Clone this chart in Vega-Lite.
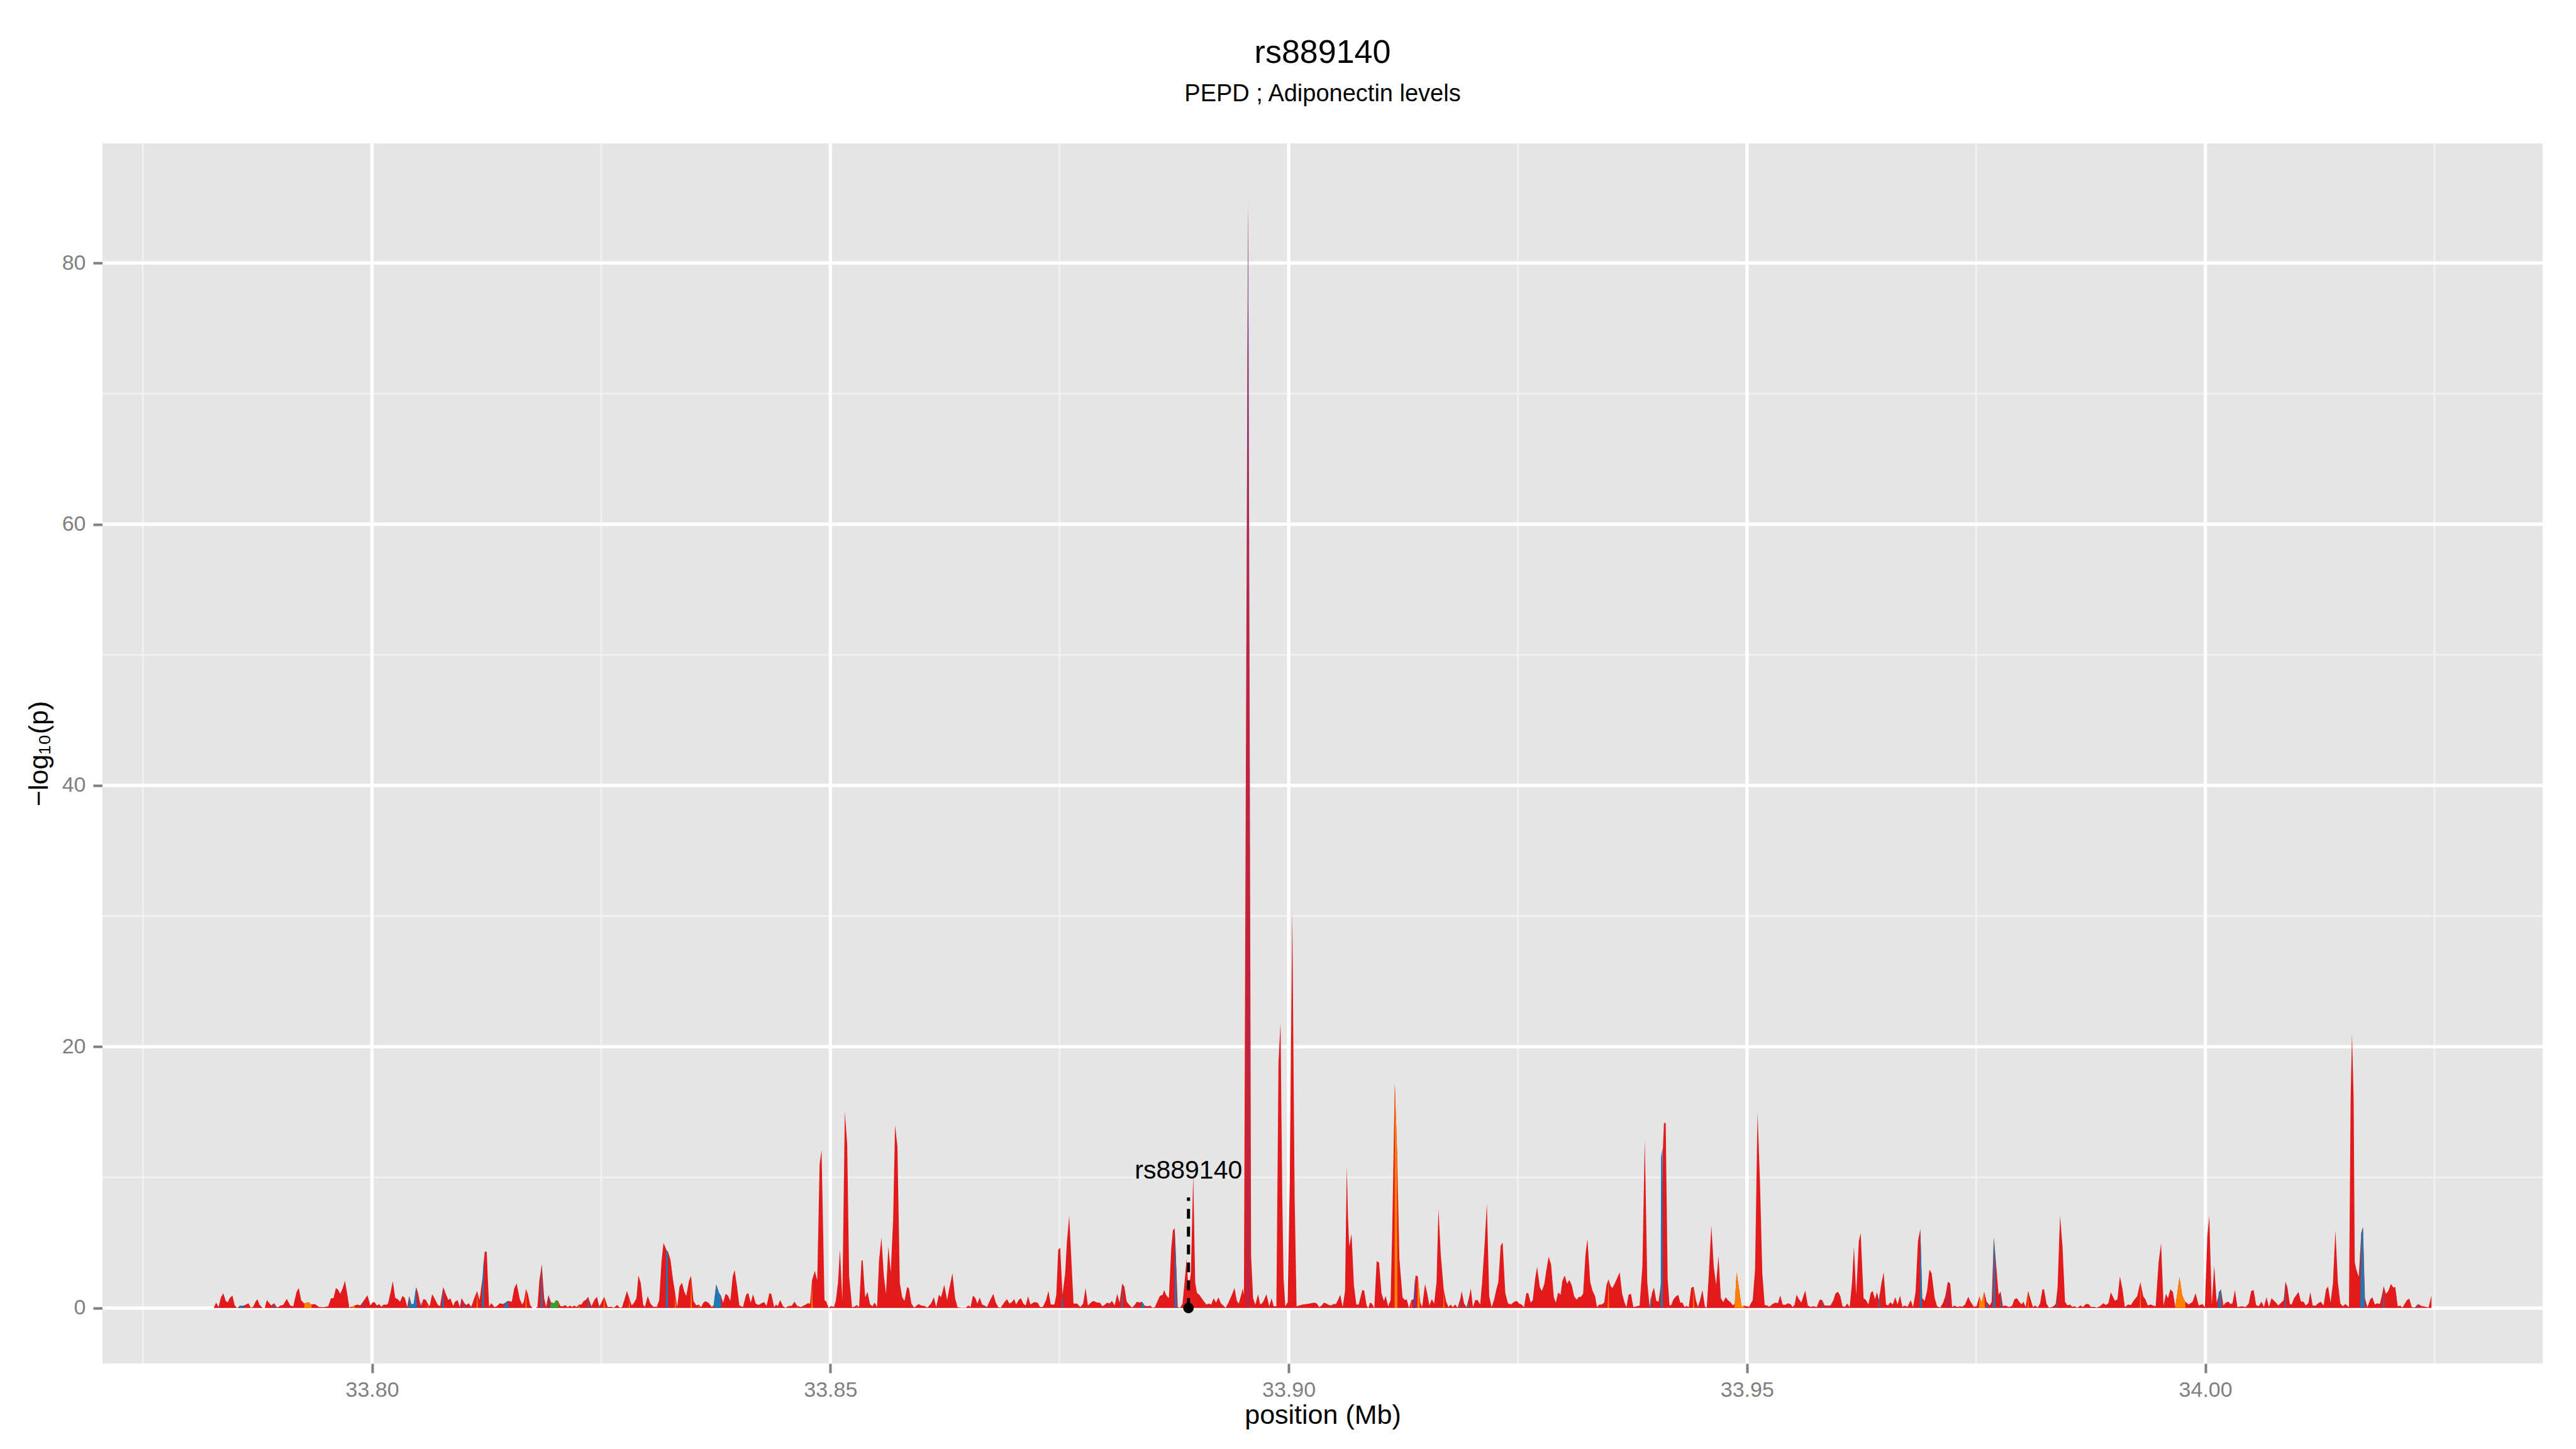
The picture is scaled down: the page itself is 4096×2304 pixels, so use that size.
{
"$schema": "https://vega.github.io/schema/vega-lite/v6.json",
"width": 3880, "height": 1940,
"autosize": {"type": "none"},
"padding": {"left": 163, "top": 228, "right": 53, "bottom": 136},
"background": "white",
"title": {"text": "rs889140", "subtitle": "PEPD ; Adiponectin levels", "anchor": "middle", "font": "Liberation Sans", "subtitleFont": "Liberation Sans", "fontSize": 52, "subtitleFontSize": 38, "fontWeight": "normal", "color": "black", "subtitleColor": "black", "offset": 55, "subtitlePadding": 20},
"config": {
 "view": {"fill": "#E5E5E5", "stroke": null},
 "axis": {"grid": false, "domain": false, "tickColor": "#7F7F7F", "tickSize": 15, "tickWidth": 4, "labelColor": "#7F7F7F", "labelFont": "Liberation Sans", "labelFontSize": 34, "titleFont": "Liberation Sans", "titleFontSize": 43, "titleColor": "black", "titleFontWeight": "normal"},
 "axisX": {"labelPadding": 10, "titlePadding": 2},
 "axisY": {"labelPadding": 12, "titlePadding": 14}
},
"datasets": {
 "minorY": [{"logp": 10}, {"logp": 30}, {"logp": 50}, {"logp": 70}],
 "minorX": [{"pos": 33.775}, {"pos": 33.825}, {"pos": 33.875}, {"pos": 33.925}, {"pos": 33.975}, {"pos": 34.025}],
 "majorY": [{"logp": 0}, {"logp": 20}, {"logp": 40}, {"logp": 60}, {"logp": 80}],
 "majorX": [{"pos": 33.80}, {"pos": 33.85}, {"pos": 33.90}, {"pos": 33.95}, {"pos": 34.00}],
 "red": [
{"pos":33.78273,"logp":0},{"pos":33.78300,"logp":0.41},{"pos":33.78326,"logp":0.07},{"pos":33.78352,"logp":0.82},{"pos":33.78378,"logp":1.12},{"pos":33.78404,"logp":0.55},{"pos":33.78425,"logp":0.44},{"pos":33.78451,"logp":0.78},{"pos":33.78477,"logp":0.96},{"pos":33.78503,"logp":0.20},{"pos":33.78529,"logp":0},{"pos":33.78561,"logp":0.18},{"pos":33.78600,"logp":0.18},{"pos":33.78626,"logp":0.27},{"pos":33.78652,"logp":0.37},{"pos":33.78678,"logp":0.03},{"pos":33.78704,"logp":0.10},{"pos":33.78731,"logp":0.51},{"pos":33.78749,"logp":0.67},{"pos":33.78775,"logp":0.23},{"pos":33.78804,"logp":0.03},{"pos":33.78830,"logp":0},{"pos":33.78853,"logp":0.61},{"pos":33.78900,"logp":0.20},{"pos":33.78932,"logp":0.37},{"pos":33.78966,"logp":0.04},{"pos":33.79000,"logp":0.18},{"pos":33.79031,"logp":0.23},{"pos":33.79070,"logp":0.70},{"pos":33.79109,"logp":0.18},{"pos":33.79141,"logp":0.14},{"pos":33.79177,"logp":1.23},{"pos":33.79201,"logp":1.53},{"pos":33.79227,"logp":0.59},{"pos":33.79261,"logp":0.34},{"pos":33.79305,"logp":0.45},{"pos":33.79339,"logp":0.27},{"pos":33.79376,"logp":0.30},{"pos":33.79423,"logp":0.07},{"pos":33.79475,"logp":0.07},{"pos":33.79522,"logp":0.14},{"pos":33.79553,"logp":0.75},{"pos":33.79580,"logp":0.75},{"pos":33.79606,"logp":1.53},{"pos":33.79632,"logp":1.37},{"pos":33.79653,"logp":1.09},{"pos":33.79679,"logp":1.50},{"pos":33.79705,"logp":2.08},{"pos":33.79731,"logp":1.02},{"pos":33.79752,"logp":0.04},{"pos":33.79789,"logp":0.14},{"pos":33.79841,"logp":0.27},{"pos":33.79872,"logp":0.20},{"pos":33.79914,"logp":0.61},{"pos":33.79950,"logp":0.98},{"pos":33.79982,"logp":0.20},{"pos":33.80010,"logp":0.45},{"pos":33.80029,"logp":0.44},{"pos":33.80055,"logp":0.18},{"pos":33.80076,"logp":0.30},{"pos":33.80102,"logp":0.10},{"pos":33.80128,"logp":0.27},{"pos":33.80154,"logp":0.25},{"pos":33.80175,"logp":0.34},{"pos":33.80201,"logp":1.16},{"pos":33.80227,"logp":2.05},{"pos":33.80253,"logp":0.78},{"pos":33.80280,"logp":0.68},{"pos":33.80306,"logp":0.48},{"pos":33.80332,"logp":0.92},{"pos":33.80358,"logp":0.78},{"pos":33.80384,"logp":0.07},{"pos":33.80405,"logp":0.92},{"pos":33.80431,"logp":0.27},{"pos":33.80455,"logp":0.34},{"pos":33.80481,"logp":1.60},{"pos":33.80502,"logp":1.16},{"pos":33.80533,"logp":0.07},{"pos":33.80559,"logp":0.68},{"pos":33.80585,"logp":0.64},{"pos":33.80611,"logp":0.31},{"pos":33.80629,"logp":0.14},{"pos":33.80656,"logp":1.05},{"pos":33.80676,"logp":0.82},{"pos":33.80716,"logp":0.27},{"pos":33.80742,"logp":0.14},{"pos":33.80776,"logp":1.60},{"pos":33.80807,"logp":1.05},{"pos":33.80833,"logp":0.61},{"pos":33.80854,"logp":0.75},{"pos":33.80886,"logp":0.16},{"pos":33.80906,"logp":0.48},{"pos":33.80933,"logp":0.61},{"pos":33.80959,"logp":0.07},{"pos":33.80977,"logp":0.75},{"pos":33.81011,"logp":0.34},{"pos":33.81029,"logp":0.23},{"pos":33.81055,"logp":0.37},{"pos":33.81082,"logp":0.07},{"pos":33.81115,"logp":0.75},{"pos":33.81147,"logp":1.30},{"pos":33.81173,"logp":0.61},{"pos":33.81207,"logp":2.38},{"pos":33.81230,"logp":4.33},{"pos":33.81251,"logp":4.30},{"pos":33.81277,"logp":0.14},{"pos":33.81303,"logp":0.37},{"pos":33.81335,"logp":0.07},{"pos":33.81361,"logp":0.14},{"pos":33.81395,"logp":0.37},{"pos":33.81429,"logp":0.31},{"pos":33.81455,"logp":0.41},{"pos":33.81481,"logp":0.55},{"pos":33.81525,"logp":0.48},{"pos":33.81551,"logp":1.50},{"pos":33.81578,"logp":1.88},{"pos":33.81612,"logp":0.68},{"pos":33.81638,"logp":0.27},{"pos":33.81656,"logp":0.48},{"pos":33.81680,"logp":1.46},{"pos":33.81700,"logp":1.09},{"pos":33.81727,"logp":0.20},{"pos":33.81753,"logp":0},{"pos":33.81787,"logp":0},{"pos":33.81805,"logp":0.10},{"pos":33.81826,"logp":2.12},{"pos":33.81852,"logp":3.35},{"pos":33.81878,"logp":0.75},{"pos":33.81899,"logp":0.10},{"pos":33.81925,"logp":1.00},{"pos":33.81951,"logp":0.45},{"pos":33.81983,"logp":0.37},{"pos":33.82009,"logp":0.59},{"pos":33.82030,"logp":0.55},{"pos":33.82056,"logp":0.14},{"pos":33.82087,"logp":0.14},{"pos":33.82108,"logp":0.23},{"pos":33.82134,"logp":0.07},{"pos":33.82160,"logp":0.18},{"pos":33.82186,"logp":0.07},
{"pos":33.82206,"logp":0.20},{"pos":33.82232,"logp":0.07},{"pos":33.82258,"logp":0.27},{"pos":33.82284,"logp":0.27},{"pos":33.82310,"logp":0.55},{"pos":33.82331,"logp":0.61},{"pos":33.82357,"logp":0.86},{"pos":33.82394,"logp":0.14},{"pos":33.82428,"logp":0.64},{"pos":33.82454,"logp":0.86},{"pos":33.82480,"logp":0.07},{"pos":33.82506,"logp":0.48},{"pos":33.82533,"logp":0.86},{"pos":33.82572,"logp":0.07},{"pos":33.82611,"logp":0.10},{"pos":33.82637,"logp":0.03},{"pos":33.82676,"logp":0.23},{"pos":33.82702,"logp":0.03},{"pos":33.82728,"logp":0.07},{"pos":33.82755,"logp":0.68},{"pos":33.82781,"logp":1.30},{"pos":33.82807,"logp":0.75},{"pos":33.82833,"logp":0.20},{"pos":33.82859,"logp":0.41},{"pos":33.82885,"logp":0.75},{"pos":33.82906,"logp":2.50},{"pos":33.82932,"logp":1.91},{"pos":33.82958,"logp":0.27},{"pos":33.82977,"logp":0.07},{"pos":33.83008,"logp":0.92},{"pos":33.83037,"logp":0.34},{"pos":33.83068,"logp":0.10},{"pos":33.83107,"logp":0.10},{"pos":33.83133,"logp":0.61},{"pos":33.83159,"logp":3.62},{"pos":33.83180,"logp":4.99},{"pos":33.83212,"logp":4.44},{"pos":33.83230,"logp":4.30},{"pos":33.83256,"logp":3.69},{"pos":33.83282,"logp":2.25},{"pos":33.83308,"logp":1.09},{"pos":33.83329,"logp":0.07},{"pos":33.83355,"logp":1.64},{"pos":33.83381,"logp":1.94},{"pos":33.83408,"logp":1.23},{"pos":33.83428,"logp":0.92},{"pos":33.83460,"logp":2.12},{"pos":33.83481,"logp":2.46},{"pos":33.83507,"logp":0.55},{"pos":33.83538,"logp":0.20},{"pos":33.83564,"logp":0.27},{"pos":33.83590,"logp":0.07},{"pos":33.83616,"logp":0.41},{"pos":33.83637,"logp":0.52},{"pos":33.83669,"logp":0.41},{"pos":33.83708,"logp":0.07},{"pos":33.83729,"logp":0.23},{"pos":33.83755,"logp":1.80},{"pos":33.83786,"logp":1.16},{"pos":33.83805,"logp":0.96},{"pos":33.83831,"logp":0.41},{"pos":33.83857,"logp":1.09},{"pos":33.83883,"logp":0.96},{"pos":33.83909,"logp":0.55},{"pos":33.83935,"logp":2.42},{"pos":33.83956,"logp":2.91},{"pos":33.83982,"logp":1.64},{"pos":33.84008,"logp":0.20},{"pos":33.84047,"logp":0.07},{"pos":33.84081,"logp":1.02},{"pos":33.84105,"logp":1.16},{"pos":33.84131,"logp":0.41},{"pos":33.84157,"logp":1.05},{"pos":33.84186,"logp":0.34},{"pos":33.84217,"logp":0.23},{"pos":33.84249,"logp":0.37},{"pos":33.84277,"logp":0.45},{"pos":33.84304,"logp":0.16},{"pos":33.84335,"logp":1.13},{"pos":33.84356,"logp":1.07},{"pos":33.84387,"logp":0.07},{"pos":33.84408,"logp":0.27},{"pos":33.84426,"logp":0.14},{"pos":33.84452,"logp":0.61},{"pos":33.84484,"logp":0.14},{"pos":33.84510,"logp":0.03},{"pos":33.84544,"logp":0.16},{"pos":33.84578,"logp":0.16},{"pos":33.84609,"logp":0.48},{"pos":33.84635,"logp":0.20},{"pos":33.84674,"logp":0.07},{"pos":33.84714,"logp":0.20},{"pos":33.84753,"logp":0.37},{"pos":33.84779,"logp":0.34},{"pos":33.84800,"logp":2.12},{"pos":33.84831,"logp":2.84},{"pos":33.84857,"logp":2.12},{"pos":33.84883,"logp":11.0},{"pos":33.84904,"logp":12.09},{"pos":33.84936,"logp":0.61},{"pos":33.84954,"logp":0.51},{"pos":33.84980,"logp":0.03},{"pos":33.85014,"logp":0.16},{"pos":33.85040,"logp":0.07},{"pos":33.85061,"logp":0.61},{"pos":33.85084,"logp":1.98},{"pos":33.85105,"logp":4.47},{"pos":33.85131,"logp":0.61},{"pos":33.85158,"logp":15.03},{"pos":33.85184,"logp":12.5},{"pos":33.85205,"logp":2.46},{"pos":33.85236,"logp":0.07},{"pos":33.85262,"logp":0.10},{"pos":33.85288,"logp":0.23},{"pos":33.85314,"logp":0.07},{"pos":33.85340,"logp":3.65},{"pos":33.85353,"logp":3.65},{"pos":33.85380,"logp":0.82},{"pos":33.85406,"logp":1.23},{"pos":33.85432,"logp":0.31},{"pos":33.85458,"logp":0.14},{"pos":33.85484,"logp":0.41},{"pos":33.85510,"logp":0.07},{"pos":33.85531,"logp":3.62},{"pos":33.85557,"logp":5.40},{"pos":33.85583,"logp":2.53},{"pos":33.85607,"logp":1.09},{"pos":33.85633,"logp":4.71},{"pos":33.85659,"logp":2.73},{"pos":33.85685,"logp":6.76},{"pos":33.85706,"logp":14.0},{"pos":33.85732,"logp":12.36},{"pos":33.85758,"logp":1.91},{"pos":33.85784,"logp":0.82},{"pos":33.85810,"logp":0.55},{"pos":33.85837,"logp":1.60},{"pos":33.85858,"logp":1.50},{"pos":33.85884,"logp":0.34},{"pos":33.85915,"logp":0.03},{"pos":33.85962,"logp":0.31},{"pos":33.85993,"logp":0.18},{"pos":33.86027,"logp":0.16},{"pos":33.86059,"logp":0.04},{"pos":33.86098,"logp":0.34},{"pos":33.86129,"logp":0.82},{"pos":33.86155,"logp":0.07},{"pos":33.86184,"logp":1.02},{"pos":33.86208,"logp":0.82},
{"pos":33.86243,"logp":1.78},{"pos":33.86274,"logp":0.61},{"pos":33.86300,"logp":1.57},{"pos":33.86332,"logp":2.66},{"pos":33.86361,"logp":0.75},{"pos":33.86387,"logp":0.07},{"pos":33.86426,"logp":0.03},{"pos":33.86478,"logp":0.03},{"pos":33.86504,"logp":0.20},{"pos":33.86530,"logp":0.07},{"pos":33.86556,"logp":0.96},{"pos":33.86583,"logp":0.75},{"pos":33.86603,"logp":0.34},{"pos":33.86630,"logp":0.79},{"pos":33.86656,"logp":0.27},{"pos":33.86682,"logp":0.20},{"pos":33.86708,"logp":0.07},{"pos":33.86739,"logp":0.55},{"pos":33.86778,"logp":1.09},{"pos":33.86805,"logp":0.41},{"pos":33.86831,"logp":0.07},{"pos":33.86857,"logp":0.03},{"pos":33.86896,"logp":0.41},{"pos":33.86927,"logp":0.68},{"pos":33.86953,"logp":0.34},{"pos":33.86974,"logp":0.41},{"pos":33.87006,"logp":0.68},{"pos":33.87027,"logp":0.27},{"pos":33.87053,"logp":0.61},{"pos":33.87079,"logp":0.75},{"pos":33.87105,"logp":0.34},{"pos":33.87131,"logp":0.18},{"pos":33.87157,"logp":0.89},{"pos":33.87183,"logp":0.27},{"pos":33.87223,"logp":0.45},{"pos":33.87262,"logp":0.41},{"pos":33.87288,"logp":0.07},{"pos":33.87319,"logp":0.10},{"pos":33.87353,"logp":0.61},{"pos":33.87379,"logp":1.30},{"pos":33.87405,"logp":0.27},{"pos":33.87445,"logp":0.27},{"pos":33.87465,"logp":1.02},{"pos":33.87486,"logp":4.44},{"pos":33.87507,"logp":4.62},{"pos":33.87533,"logp":1.02},{"pos":33.87562,"logp":2.66},{"pos":33.87580,"logp":4.99},{"pos":33.87606,"logp":7.04},{"pos":33.87627,"logp":4.03},{"pos":33.87653,"logp":0.34},{"pos":33.87693,"logp":0.34},{"pos":33.87727,"logp":0.07},{"pos":33.87758,"logp":0.34},{"pos":33.87784,"logp":1.53},{"pos":33.87810,"logp":0.20},{"pos":33.87842,"logp":0.41},{"pos":33.87868,"logp":0.55},{"pos":33.87889,"logp":0.48},{"pos":33.87915,"logp":0.41},{"pos":33.87941,"logp":0.41},{"pos":33.87967,"logp":0.14},{"pos":33.87998,"logp":0.27},{"pos":33.88019,"logp":0.41},{"pos":33.88045,"logp":0.34},{"pos":33.88071,"logp":0.55},{"pos":33.88103,"logp":0.20},{"pos":33.88129,"logp":1.09},{"pos":33.88155,"logp":0.41},{"pos":33.88184,"logp":1.87},{"pos":33.88207,"logp":1.64},{"pos":33.88233,"logp":0.48},{"pos":33.88267,"logp":0.20},{"pos":33.88293,"logp":0.04},{"pos":33.88319,"logp":0.23},{"pos":33.88346,"logp":0.48},{"pos":33.88372,"logp":0.41},{"pos":33.88398,"logp":0.48},{"pos":33.88424,"logp":0.20},{"pos":33.88458,"logp":0.14},{"pos":33.88489,"logp":0.18},{"pos":33.88515,"logp":0.03},{"pos":33.88541,"logp":0.07},{"pos":33.88567,"logp":0.48},{"pos":33.88594,"logp":0.92},{"pos":33.88625,"logp":1.02},{"pos":33.88641,"logp":1.37},{"pos":33.88667,"logp":0.96},{"pos":33.88693,"logp":0.75},{"pos":33.88719,"logp":4.57},{"pos":33.88737,"logp":5.94},{"pos":33.88756,"logp":6.11},{"pos":33.88777,"logp":2.66},{"pos":33.88790,"logp":0.07},{"pos":33.88816,"logp":0.03},{"pos":33.88842,"logp":0.34},{"pos":33.88868,"logp":2.25},{"pos":33.88886,"logp":3.76},{"pos":33.88907,"logp":1.43},{"pos":33.88933,"logp":2.66},{"pos":33.88959,"logp":10.2},{"pos":33.88980,"logp":1.98},{"pos":33.88999,"logp":1.16},{"pos":33.89025,"logp":1.02},{"pos":33.89051,"logp":0.75},{"pos":33.89077,"logp":0.48},{"pos":33.89103,"logp":0.27},{"pos":33.89129,"logp":0.34},{"pos":33.89155,"logp":0.27},{"pos":33.89182,"logp":0.75},{"pos":33.89208,"logp":0.41},{"pos":33.89234,"logp":0.82},{"pos":33.89260,"logp":0.37},{"pos":33.89286,"logp":0.20},{"pos":33.89312,"logp":0.03},{"pos":33.89338,"logp":0.34},{"pos":33.89377,"logp":0.96},{"pos":33.89409,"logp":1.53},{"pos":33.89435,"logp":0.55},{"pos":33.89456,"logp":0.34},{"pos":33.89482,"logp":1.02},{"pos":33.89500,"logp":1.5},
{"pos":33.89512,"logp":1.0},{"pos":33.89535,"logp":45},{"pos":33.89557,"logp":84.9},{"pos":33.89572,"logp":52},{"pos":33.89590,"logp":4},{"pos":33.89612,"logp":0.74},{"pos":33.89637,"logp":0.26},{"pos":33.89666,"logp":1.05},{"pos":33.89690,"logp":0.26},{"pos":33.89719,"logp":0.44},{"pos":33.89758,"logp":1.05},{"pos":33.89788,"logp":0.14},{"pos":33.89813,"logp":0.74},{"pos":33.89837,"logp":0.14},{"pos":33.89866,"logp":0.14},{"pos":33.89889,"logp":18.8},{"pos":33.89911,"logp":21.8},{"pos":33.89930,"logp":8.6},{"pos":33.89944,"logp":2.3},{"pos":33.89963,"logp":0.14},{"pos":33.89989,"logp":0.44},{"pos":33.90012,"logp":9.8},{"pos":33.90039,"logp":30.5},{"pos":33.90065,"logp":8.6},{"pos":33.90086,"logp":0.14},{"pos":33.90148,"logp":0.26},{"pos":33.90206,"logp":0.32},
{"pos":33.90281,"logp":0.41},{"pos":33.90307,"logp":0.34},{"pos":33.90333,"logp":0.07},{"pos":33.90359,"logp":0.18},{"pos":33.90385,"logp":0.41},{"pos":33.90412,"logp":0.34},{"pos":33.90438,"logp":0.23},{"pos":33.90464,"logp":0.20},{"pos":33.90490,"logp":0.31},{"pos":33.90516,"logp":0.31},{"pos":33.90542,"logp":0.68},{"pos":33.90563,"logp":1.02},{"pos":33.90589,"logp":0.07},{"pos":33.90615,"logp":1.30},{"pos":33.90634,"logp":10.83},{"pos":33.90647,"logp":7.0},{"pos":33.90660,"logp":4.71},{"pos":33.90686,"logp":5.67},{"pos":33.90712,"logp":1.71},{"pos":33.90738,"logp":0.27},{"pos":33.90764,"logp":0.27},{"pos":33.90783,"logp":0.82},{"pos":33.90803,"logp":1.37},{"pos":33.90824,"logp":1.33},{"pos":33.90850,"logp":0.2},{"pos":33.90869,"logp":0},
{"pos":33.90887,"logp":0.41},{"pos":33.90908,"logp":0.34},{"pos":33.90934,"logp":0},{"pos":33.90960,"logp":3.59},{"pos":33.90986,"logp":3.48},{"pos":33.91012,"logp":1.16},{"pos":33.91038,"logp":0.55},{"pos":33.91059,"logp":0.92},{"pos":33.91085,"logp":0.14},{"pos":33.91112,"logp":0.61},{"pos":33.91130,"logp":6.08},{"pos":33.91158,"logp":17.2},{"pos":33.91182,"logp":12.2},{"pos":33.91208,"logp":3.76},{"pos":33.91242,"logp":0.82},{"pos":33.91268,"logp":0.61},{"pos":33.91287,"logp":0.68},{"pos":33.91313,"logp":0},{"pos":33.91339,"logp":0.61},{"pos":33.91365,"logp":0.68},{"pos":33.91386,"logp":2.50},{"pos":33.91409,"logp":2.42},{"pos":33.91436,"logp":0.41},{"pos":33.91456,"logp":0.07},{"pos":33.91488,"logp":1.84},{"pos":33.91514,"logp":1.02},{"pos":33.91535,"logp":0.20},{"pos":33.91561,"logp":0.68},{"pos":33.91587,"logp":0.34},{"pos":33.91613,"logp":1.98},{"pos":33.91634,"logp":7.58},{"pos":33.91660,"logp":4.03},{"pos":33.91691,"logp":1.43},{"pos":33.91718,"logp":0.48},{"pos":33.91744,"logp":0.07},{"pos":33.91765,"logp":0.27},{"pos":33.91791,"logp":0.07},{"pos":33.91817,"logp":0.27},{"pos":33.91843,"logp":0.03},{"pos":33.91874,"logp":0.75},{"pos":33.91887,"logp":1.30},{"pos":33.91914,"logp":0.34},{"pos":33.91940,"logp":0.07},{"pos":33.91966,"logp":0.75},{"pos":33.91987,"logp":1.50},{"pos":33.92010,"logp":0.07},{"pos":33.92036,"logp":0.61},{"pos":33.92062,"logp":0.61},{"pos":33.92089,"logp":0.27},{"pos":33.92109,"logp":1.84},{"pos":33.92136,"logp":4.71},{"pos":33.92162,"logp":7.96},{"pos":33.92188,"logp":0.89},{"pos":33.92214,"logp":0.07},{"pos":33.92240,"logp":0.61},{"pos":33.92266,"logp":1.43},{"pos":33.92287,"logp":1.98},{"pos":33.92313,"logp":4.78},{"pos":33.92334,"logp":5.01},{"pos":33.92363,"logp":1.16},{"pos":33.92392,"logp":0.37},{"pos":33.92423,"logp":0.27},{"pos":33.92462,"logp":0.48},{"pos":33.92488,"logp":0.55},{"pos":33.92514,"logp":0.34},{"pos":33.92540,"logp":0.27},{"pos":33.92567,"logp":0.07},{"pos":33.92593,"logp":1.13},{"pos":33.92614,"logp":1.13},{"pos":33.92640,"logp":0.41},{"pos":33.92663,"logp":0.61},{"pos":33.92689,"logp":2.25},{"pos":33.92710,"logp":3.14},{"pos":33.92741,"logp":1.57},{"pos":33.92762,"logp":1.30},{"pos":33.92789,"logp":1.84},{"pos":33.92809,"logp":2.80},{"pos":33.92836,"logp":3.93},{"pos":33.92862,"logp":3.35},{"pos":33.92893,"logp":0.82},{"pos":33.92914,"logp":0.41},{"pos":33.92940,"logp":1.19},{"pos":33.92966,"logp":1.02},{"pos":33.92985,"logp":2.05},{"pos":33.93011,"logp":2.50},{"pos":33.93037,"logp":1.87},{"pos":33.93063,"logp":2.14},{"pos":33.93089,"logp":1.73},{"pos":33.93115,"logp":0.89},{"pos":33.93142,"logp":0.64},{"pos":33.93168,"logp":0.86},{"pos":33.93186,"logp":0.85},{"pos":33.93212,"logp":1.09},{"pos":33.93238,"logp":4.10},{"pos":33.93259,"logp":5.29},{"pos":33.93290,"logp":1.98},{"pos":33.93316,"logp":1.30},{"pos":33.93343,"logp":0.89},{"pos":33.93363,"logp":0.07},{"pos":33.93389,"logp":0.27},{"pos":33.93415,"logp":0.27},{"pos":33.93442,"logp":0.41},{"pos":33.93468,"logp":1.78},{"pos":33.93489,"logp":2.19},{"pos":33.93515,"logp":1.64},{"pos":33.93533,"logp":1.54},{"pos":33.93559,"logp":1.91},{"pos":33.93585,"logp":2.32},{"pos":33.93611,"logp":2.73},{"pos":33.93638,"logp":1.09},{"pos":33.93664,"logp":0.41},{"pos":33.93685,"logp":0.07},{"pos":33.93708,"logp":1.02},{"pos":33.93734,"logp":1.09},{"pos":33.93760,"logp":0.07},{"pos":33.93794,"logp":0.14},{"pos":33.93828,"logp":0.18},{"pos":33.93859,"logp":3.21},{"pos":33.93885,"logp":12.94},{"pos":33.93912,"logp":1.98},{"pos":33.93938,"logp":0.07},{"pos":33.93964,"logp":1.16},{"pos":33.93985,"logp":1.57},{"pos":33.94011,"logp":0.55},{"pos":33.94035,"logp":0.48},{"pos":33.94061,"logp":1.84},{"pos":33.94081,"logp":11.95},{"pos":33.94094,"logp":14.14},{"pos":33.94113,"logp":14.18},{"pos":33.94134,"logp":2.25},{"pos":33.94155,"logp":0.20},{"pos":33.94173,"logp":0.23},{"pos":33.94199,"logp":0.68},{"pos":33.94225,"logp":0.89},{"pos":33.94251,"logp":1.0},{"pos":33.94272,"logp":0.41},{"pos":33.94296,"logp":0.41},
{"pos":33.94318,"logp":0.07},{"pos":33.94339,"logp":0.16},{"pos":33.94365,"logp":0.07},{"pos":33.94391,"logp":1.54},{"pos":33.94417,"logp":1.64},{"pos":33.94443,"logp":0.61},{"pos":33.94464,"logp":0.07},{"pos":33.94488,"logp":0.61},{"pos":33.94514,"logp":1.37},{"pos":33.94540,"logp":0.14},{"pos":33.94561,"logp":0.03},{"pos":33.94584,"logp":2.66},{"pos":33.94611,"logp":6.31},{"pos":33.94637,"logp":3.21},{"pos":33.94663,"logp":1.78},{"pos":33.94689,"logp":3.99},{"pos":33.94715,"logp":0.75},{"pos":33.94741,"logp":0.45},{"pos":33.94767,"logp":0.82},{"pos":33.94793,"logp":0.59},{"pos":33.94820,"logp":0.45},{"pos":33.94846,"logp":0.20},{"pos":33.94867,"logp":0.34},{"pos":33.94887,"logp":2.73},{"pos":33.94914,"logp":1.43},{"pos":33.94940,"logp":0.10},{"pos":33.94966,"logp":0.18},{"pos":33.94992,"logp":0.14},{"pos":33.95023,"logp":0.10},{"pos":33.95062,"logp":0.61},{"pos":33.95088,"logp":2.94},{"pos":33.95115,"logp":14.96},{"pos":33.95141,"logp":9.77},{"pos":33.95167,"logp":2.66},{"pos":33.95193,"logp":0.23},{"pos":33.95219,"logp":0.20},{"pos":33.95245,"logp":0.10},{"pos":33.95279,"logp":0.31},{"pos":33.95311,"logp":0.41},{"pos":33.95337,"logp":0.37},{"pos":33.95363,"logp":0.96},{"pos":33.95389,"logp":0.27},{"pos":33.95415,"logp":0.23},{"pos":33.95446,"logp":0.37},{"pos":33.95473,"logp":0.31},{"pos":33.95499,"logp":0.07},{"pos":33.95520,"logp":0.27},{"pos":33.95540,"logp":1.02},{"pos":33.95567,"logp":0.68},{"pos":33.95593,"logp":0.41},{"pos":33.95619,"logp":1.02},{"pos":33.95637,"logp":1.33},{"pos":33.95663,"logp":0.20},{"pos":33.95689,"logp":0.10},{"pos":33.95729,"logp":0.14},{"pos":33.95760,"logp":0.07},{"pos":33.95794,"logp":0.64},{"pos":33.95820,"logp":0.61},{"pos":33.95846,"logp":0.20},{"pos":33.95880,"logp":0.18},{"pos":33.95911,"logp":0.20},{"pos":33.95943,"logp":0.61},{"pos":33.95964,"logp":1.09},{"pos":33.95990,"logp":1.26},{"pos":33.96016,"logp":0.96},{"pos":33.96042,"logp":0.14},{"pos":33.96068,"logp":0.10},{"pos":33.96094,"logp":0.34},{"pos":33.96120,"logp":0.07},{"pos":33.96146,"logp":1.98},{"pos":33.96167,"logp":4.71},{"pos":33.96191,"logp":1.02},{"pos":33.96220,"logp":5.12},{"pos":33.96240,"logp":5.74},{"pos":33.96272,"logp":0.75},{"pos":33.96298,"logp":0.61},{"pos":33.96324,"logp":0.27},{"pos":33.96350,"logp":1.16},{"pos":33.96371,"logp":1.30},{"pos":33.96397,"logp":0.68},{"pos":33.96418,"logp":1.23},{"pos":33.96439,"logp":0.61},{"pos":33.96465,"logp":1.84},{"pos":33.96491,"logp":2.73},{"pos":33.96517,"logp":0.27},{"pos":33.96538,"logp":0.20},{"pos":33.96564,"logp":0.45},{"pos":33.96590,"logp":0.27},{"pos":33.96617,"logp":0.82},{"pos":33.96643,"logp":0.27},{"pos":33.96669,"logp":0.96},{"pos":33.96695,"logp":0.10},{"pos":33.96721,"logp":0.18},{"pos":33.96752,"logp":0.10},{"pos":33.96786,"logp":0.61},{"pos":33.96812,"logp":0.07},{"pos":33.96839,"logp":1.23},{"pos":33.96865,"logp":5.12},{"pos":33.96891,"logp":6.05},{"pos":33.96912,"logp":0.75},{"pos":33.96938,"logp":0.55},{"pos":33.96964,"logp":1.30},{"pos":33.96990,"logp":2.94},{"pos":33.97014,"logp":2.66},{"pos":33.97048,"logp":0.75},{"pos":33.97074,"logp":0.14},{"pos":33.97108,"logp":0.04},{"pos":33.97140,"logp":0.41},{"pos":33.97165,"logp":0.96},{"pos":33.97191,"logp":2.01},{"pos":33.97217,"logp":1.87},{"pos":33.97238,"logp":0.07},{"pos":33.97264,"logp":0.20},{"pos":33.97290,"logp":0.07},{"pos":33.97317,"logp":0.14},{"pos":33.97348,"logp":0.10},{"pos":33.97379,"logp":0.27},{"pos":33.97413,"logp":0.86},{"pos":33.97439,"logp":0.48},{"pos":33.97474,"logp":0.10},{"pos":33.97505,"logp":0.14},{"pos":33.97536,"logp":0.89},{"pos":33.97557,"logp":0.41},{"pos":33.97588,"logp":1.23},{"pos":33.97614,"logp":0.48},{"pos":33.97648,"logp":0.20},{"pos":33.97669,"logp":0.48},{"pos":33.97693,"logp":5.46},{"pos":33.97719,"logp":3.21},{"pos":33.97745,"logp":1.02},{"pos":33.97766,"logp":1.26},{"pos":33.97792,"logp":0.14},{"pos":33.97818,"logp":0.20},{"pos":33.97857,"logp":0.07},{"pos":33.97891,"logp":0.16},{"pos":33.97918,"logp":0.68},{"pos":33.97944,"logp":0.75},{"pos":33.97970,"logp":0.48},{"pos":33.97996,"logp":0.27},{"pos":33.98014,"logp":0.48},{"pos":33.98040,"logp":0.07},{"pos":33.98066,"logp":1.30},{"pos":33.98093,"logp":0.68},{"pos":33.98119,"logp":0.07},{"pos":33.98145,"logp":0.20},{"pos":33.98171,"logp":0.04},{"pos":33.98197,"logp":0.34},{"pos":33.98223,"logp":1.43},{"pos":33.98241,"logp":1.41},{"pos":33.98267,"logp":0.34},{"pos":33.98293,"logp":0.04},{"pos":33.98327,"logp":0.07},{"pos":33.98354,"logp":0.20},
{"pos":33.98369,"logp":0.34},{"pos":33.98388,"logp":1.57},{"pos":33.98415,"logp":7.06},{"pos":33.98442,"logp":4.71},{"pos":33.98469,"logp":0.48},{"pos":33.98496,"logp":0.20},{"pos":33.98523,"logp":0.27},{"pos":33.98549,"logp":0.10},{"pos":33.98576,"logp":0.14},{"pos":33.98603,"logp":0.03},{"pos":33.98638,"logp":0.20},{"pos":33.98665,"logp":0.07},{"pos":33.98697,"logp":0.30},{"pos":33.98724,"logp":0.30},{"pos":33.98754,"logp":0.07},{"pos":33.98786,"logp":0.10},{"pos":33.98818,"logp":0.04},{"pos":33.98853,"logp":0.16},{"pos":33.98888,"logp":0.37},{"pos":33.98915,"logp":0.23},{"pos":33.98942,"logp":0.37},{"pos":33.98969,"logp":1.19},{"pos":33.99014,"logp":0.55},{"pos":33.99041,"logp":0.68},{"pos":33.99068,"logp":2.42},{"pos":33.99095,"logp":1.50},{"pos":33.99122,"logp":0.07},{"pos":33.99157,"logp":0.27},{"pos":33.99189,"logp":0.23},{"pos":33.99221,"logp":0.59},{"pos":33.99256,"logp":0.89},{"pos":33.99291,"logp":1.98},{"pos":33.99323,"logp":0.89},{"pos":33.99345,"logp":0.68},{"pos":33.99372,"logp":0.20},{"pos":33.99404,"logp":0.27},{"pos":33.99431,"logp":0.18},{"pos":33.99458,"logp":0.14},{"pos":33.99490,"logp":3.48},{"pos":33.99517,"logp":4.95},{"pos":33.99544,"logp":0.20},{"pos":33.99571,"logp":1.09},{"pos":33.99592,"logp":0.75},{"pos":33.99619,"logp":1.43},{"pos":33.99646,"logp":1.23},{"pos":33.99673,"logp":0.07},{"pos":33.99718,"logp":2.36},{"pos":33.99748,"logp":0.96},{"pos":33.99780,"logp":0.48},{"pos":33.99820,"logp":0.27},{"pos":33.99861,"logp":0.48},{"pos":33.99893,"logp":1.13},{"pos":33.99928,"logp":0.20},{"pos":33.99968,"logp":0.31},{"pos":33.99995,"logp":0.07},{"pos":34.00022,"logp":5.53},{"pos":34.00043,"logp":7.04},{"pos":34.00070,"logp":0.27},{"pos":34.00097,"logp":3.24},{"pos":34.00124,"logp":0.41},{"pos":34.00151,"logp":1.13},{"pos":34.00170,"logp":1.43},{"pos":34.00197,"logp":0.20},{"pos":34.00223,"logp":0.41},{"pos":34.00250,"logp":0.48},{"pos":34.00277,"logp":0.31},{"pos":34.00296,"logp":0.37},{"pos":34.00323,"logp":1.37},{"pos":34.00350,"logp":0.07},{"pos":34.00398,"logp":0.14},{"pos":34.00439,"logp":0.07},{"pos":34.00473,"logp":0.34},{"pos":34.00500,"logp":1.30},{"pos":34.00527,"logp":1.37},{"pos":34.00554,"logp":0.23},{"pos":34.00581,"logp":0.14},{"pos":34.00613,"logp":0.48},{"pos":34.00640,"logp":0.07},{"pos":34.00667,"logp":0.82},{"pos":34.00694,"logp":0.07},{"pos":34.00721,"logp":0.75},{"pos":34.00761,"logp":0.48},{"pos":34.00796,"logp":0.20},{"pos":34.00828,"logp":0.41},{"pos":34.00855,"logp":0.61},{"pos":34.00874,"logp":2.01},{"pos":34.00895,"logp":1.60},{"pos":34.00922,"logp":0.31},{"pos":34.00941,"logp":0.27},{"pos":34.00968,"logp":0.75},{"pos":34.00989,"logp":0.96},{"pos":34.01016,"logp":1.23},{"pos":34.01043,"logp":0.51},{"pos":34.01070,"logp":0.48},{"pos":34.01097,"logp":0.20},{"pos":34.01124,"logp":0.37},{"pos":34.01145,"logp":1.23},{"pos":34.01172,"logp":0.18},{"pos":34.01204,"logp":0.18},{"pos":34.01231,"logp":0.37},{"pos":34.01258,"logp":0.48},{"pos":34.01290,"logp":0.20},{"pos":34.01317,"logp":1.43},{"pos":34.01339,"logp":1.64},{"pos":34.01366,"logp":0.41},{"pos":34.01392,"logp":1.91},{"pos":34.01419,"logp":5.94},{"pos":34.01446,"logp":1.98},{"pos":34.01473,"logp":0.34},{"pos":34.01500,"logp":0.14},{"pos":34.01527,"logp":0.31},{"pos":34.01567,"logp":0.07},{"pos":34.01585,"logp":16},{"pos":34.01600,"logp":21.0},{"pos":34.01618,"logp":16},{"pos":34.01630,"logp":3.5},{"pos":34.01647,"logp":2.94},{"pos":34.01674,"logp":2.39},{"pos":34.01701,"logp":5.74},{"pos":34.01720,"logp":6.19},{"pos":34.01741,"logp":0.75},{"pos":34.01768,"logp":0.07},{"pos":34.01800,"logp":0.68},{"pos":34.01822,"logp":0.82},{"pos":34.01849,"logp":0.27},{"pos":34.01876,"logp":0.37},{"pos":34.01903,"logp":0.31},{"pos":34.01924,"logp":0.89},{"pos":34.01946,"logp":1.68},{"pos":34.01970,"logp":1.09},{"pos":34.01997,"logp":1.32},{"pos":34.02024,"logp":1.84},{"pos":34.02051,"logp":1.57},{"pos":34.02072,"logp":1.60},{"pos":34.02099,"logp":0.14},{"pos":34.02126,"logp":0.18},{"pos":34.02150,"logp":0.04},{"pos":34.02177,"logp":0.34},{"pos":34.02199,"logp":0.61},{"pos":34.02225,"logp":0.71},{"pos":34.02252,"logp":0.07},{"pos":34.02285,"logp":0.04},{"pos":34.02319,"logp":0.31},{"pos":34.02360,"logp":0.16},{"pos":34.02400,"logp":0.10},{"pos":34.02435,"logp":0.04},{"pos":34.02467,"logp":0.96}
 ],
 "ld": [
{"cat":"blue","pos":33.78545,"logp":0},{"cat":"blue","pos":33.78555,"logp":0.18},{"cat":"blue","pos":33.78600,"logp":0.18},{"cat":"blue","pos":33.78610,"logp":0},
{"cat":"blue","pos":33.78920,"logp":0},{"cat":"blue","pos":33.78932,"logp":0.37},{"cat":"blue","pos":33.78944,"logp":0},
{"cat":"blue","pos":33.80398,"logp":0},{"cat":"blue","pos":33.80405,"logp":0.9},{"cat":"blue","pos":33.80431,"logp":0.27},{"cat":"blue","pos":33.80455,"logp":0.34},{"cat":"blue","pos":33.80481,"logp":1.6},{"cat":"blue","pos":33.80492,"logp":0},
{"cat":"blue","pos":33.80765,"logp":0},{"cat":"blue","pos":33.80776,"logp":1.6},{"cat":"blue","pos":33.80787,"logp":0},
{"cat":"blue","pos":33.81005,"logp":0},{"cat":"blue","pos":33.81011,"logp":0.34},{"cat":"blue","pos":33.81020,"logp":0},
{"cat":"blue","pos":33.81075,"logp":0},{"cat":"blue","pos":33.81082,"logp":0.2},{"cat":"blue","pos":33.81090,"logp":0},
{"cat":"blue","pos":33.81200,"logp":0},{"cat":"blue","pos":33.81207,"logp":2.38},{"cat":"blue","pos":33.81220,"logp":4.0},{"cat":"blue","pos":33.81224,"logp":0},
{"cat":"blue","pos":33.81440,"logp":0},{"cat":"blue","pos":33.81455,"logp":0.41},{"cat":"blue","pos":33.81481,"logp":0.55},{"cat":"blue","pos":33.81492,"logp":0},
{"cat":"blue","pos":33.81840,"logp":0},{"cat":"blue","pos":33.81852,"logp":3.35},{"cat":"blue","pos":33.81862,"logp":0},
{"cat":"blue","pos":33.82350,"logp":0},{"cat":"blue","pos":33.82357,"logp":0.86},{"cat":"blue","pos":33.82370,"logp":0},
{"cat":"blue","pos":33.82475,"logp":0},{"cat":"blue","pos":33.82480,"logp":0.3},{"cat":"blue","pos":33.82490,"logp":0},
{"cat":"blue","pos":33.83205,"logp":0},{"cat":"blue","pos":33.83208,"logp":4.45},{"cat":"blue","pos":33.83225,"logp":4.32},{"cat":"blue","pos":33.83228,"logp":0},
{"cat":"blue","pos":33.83727,"logp":0},{"cat":"blue","pos":33.83733,"logp":0.6},{"cat":"blue","pos":33.83755,"logp":1.80},{"cat":"blue","pos":33.83786,"logp":1.16},{"cat":"blue","pos":33.83805,"logp":0.96},{"cat":"blue","pos":33.83810,"logp":0},
{"cat":"blue","pos":33.86675,"logp":0},{"cat":"blue","pos":33.86682,"logp":0.2},{"cat":"blue","pos":33.86690,"logp":0},
{"cat":"blue","pos":33.87523,"logp":0},{"cat":"blue","pos":33.87528,"logp":1.3},{"cat":"blue","pos":33.87540,"logp":0},
{"cat":"blue","pos":33.87805,"logp":0},{"cat":"blue","pos":33.87810,"logp":0.2},{"cat":"blue","pos":33.87818,"logp":0},
{"cat":"blue","pos":33.88040,"logp":0},{"cat":"blue","pos":33.88045,"logp":0.34},{"cat":"blue","pos":33.88052,"logp":0},
{"cat":"blue","pos":33.88176,"logp":0},{"cat":"blue","pos":33.88184,"logp":1.87},{"cat":"blue","pos":33.88192,"logp":0},
{"cat":"blue","pos":33.88315,"logp":0},{"cat":"blue","pos":33.88319,"logp":0.23},{"cat":"blue","pos":33.88325,"logp":0},
{"cat":"blue","pos":33.88390,"logp":0},{"cat":"blue","pos":33.88398,"logp":0.48},{"cat":"blue","pos":33.88420,"logp":0.3},{"cat":"blue","pos":33.88426,"logp":0},
{"cat":"blue","pos":33.88756,"logp":0},{"cat":"blue","pos":33.88760,"logp":5.9},{"cat":"blue","pos":33.88775,"logp":2.8},{"cat":"blue","pos":33.88780,"logp":0},
{"cat":"blue","pos":33.91868,"logp":0},{"cat":"blue","pos":33.91874,"logp":0.75},{"cat":"blue","pos":33.91880,"logp":0},
{"cat":"blue","pos":33.91947,"logp":0},{"cat":"blue","pos":33.91960,"logp":0.6},{"cat":"blue","pos":33.91966,"logp":0},
{"cat":"blue","pos":33.93938,"logp":0},{"cat":"blue","pos":33.93950,"logp":0.9},{"cat":"blue","pos":33.93955,"logp":0},
{"cat":"blue","pos":33.94058,"logp":0},{"cat":"blue","pos":33.94062,"logp":11.5},{"cat":"blue","pos":33.94078,"logp":12.3},{"cat":"blue","pos":33.94082,"logp":0},
{"cat":"blue","pos":33.95815,"logp":0},{"cat":"blue","pos":33.95820,"logp":0.61},{"cat":"blue","pos":33.95828,"logp":0},
{"cat":"blue","pos":33.96436,"logp":0},{"cat":"blue","pos":33.96445,"logp":1.2},{"cat":"blue","pos":33.96452,"logp":0},
{"cat":"blue","pos":33.96885,"logp":0},{"cat":"blue","pos":33.96891,"logp":6.05},{"cat":"blue","pos":33.96905,"logp":2.5},{"cat":"blue","pos":33.96910,"logp":0},
{"cat":"blue","pos":33.97260,"logp":0},{"cat":"blue","pos":33.97264,"logp":0.2},{"cat":"blue","pos":33.97270,"logp":0},
{"cat":"blue","pos":33.97608,"logp":0},{"cat":"blue","pos":33.97614,"logp":0.48},{"cat":"blue","pos":33.97625,"logp":0.2},{"cat":"blue","pos":33.97630,"logp":0},
{"cat":"blue","pos":33.97683,"logp":0},{"cat":"blue","pos":33.97690,"logp":5.3},{"cat":"blue","pos":33.97705,"logp":4.3},{"cat":"blue","pos":33.97710,"logp":0},
{"cat":"blue","pos":33.97760,"logp":0},{"cat":"blue","pos":33.97766,"logp":1.26},{"cat":"blue","pos":33.97775,"logp":0},
{"cat":"blue","pos":33.98372,"logp":0},{"cat":"blue","pos":33.98378,"logp":0.9},{"cat":"blue","pos":33.98385,"logp":0},
{"cat":"blue","pos":33.98780,"logp":0},{"cat":"blue","pos":33.98786,"logp":0.1},{"cat":"blue","pos":33.98792,"logp":0},
{"cat":"blue","pos":34.00140,"logp":0},{"cat":"blue","pos":34.00145,"logp":1.2},{"cat":"blue","pos":34.00170,"logp":1.43},{"cat":"blue","pos":34.00176,"logp":0},
{"cat":"blue","pos":34.00866,"logp":0},{"cat":"blue","pos":34.00874,"logp":2.01},{"cat":"blue","pos":34.00880,"logp":0},
{"cat":"blue","pos":34.01168,"logp":0},{"cat":"blue","pos":34.01172,"logp":0.18},{"cat":"blue","pos":34.01178,"logp":0},
{"cat":"blue","pos":34.01690,"logp":0},{"cat":"blue","pos":34.01701,"logp":5.74},{"cat":"blue","pos":34.01720,"logp":6.19},{"cat":"blue","pos":34.01735,"logp":1.5},{"cat":"blue","pos":34.01740,"logp":0},
{"cat":"blue","pos":34.01940,"logp":0},{"cat":"blue","pos":34.01946,"logp":1.68},{"cat":"blue","pos":34.01955,"logp":0},
{"cat":"blue","pos":34.02310,"logp":0},{"cat":"blue","pos":34.02319,"logp":0.31},{"cat":"blue","pos":34.02328,"logp":0},
{"cat":"orange","pos":33.79260,"logp":0},{"cat":"orange","pos":33.79264,"logp":0.34},{"cat":"orange","pos":33.79305,"logp":0.45},{"cat":"orange","pos":33.79339,"logp":0.27},{"cat":"orange","pos":33.79343,"logp":0},
{"cat":"orange","pos":33.79775,"logp":0},{"cat":"orange","pos":33.79780,"logp":0.14},{"cat":"orange","pos":33.79810,"logp":0.14},{"cat":"orange","pos":33.79815,"logp":0},
{"cat":"orange","pos":33.80605,"logp":0},{"cat":"orange","pos":33.80611,"logp":0.31},{"cat":"orange","pos":33.80618,"logp":0},
{"cat":"orange","pos":33.81140,"logp":0},{"cat":"orange","pos":33.81147,"logp":1.30},{"cat":"orange","pos":33.81155,"logp":0},
{"cat":"orange","pos":33.81674,"logp":0},{"cat":"orange","pos":33.81680,"logp":1.46},{"cat":"orange","pos":33.81688,"logp":0},
{"cat":"orange","pos":33.82250,"logp":0},{"cat":"orange","pos":33.82258,"logp":0.27},{"cat":"orange","pos":33.82266,"logp":0},
{"cat":"orange","pos":33.82525,"logp":0},{"cat":"orange","pos":33.82533,"logp":0.86},{"cat":"orange","pos":33.82541,"logp":0},
{"cat":"orange","pos":33.82800,"logp":0},{"cat":"orange","pos":33.82807,"logp":0.75},{"cat":"orange","pos":33.82813,"logp":0},
{"cat":"orange","pos":33.83302,"logp":0},{"cat":"orange","pos":33.83308,"logp":1.09},{"cat":"orange","pos":33.83315,"logp":0},
{"cat":"orange","pos":33.83475,"logp":0},{"cat":"orange","pos":33.83481,"logp":2.46},{"cat":"orange","pos":33.83490,"logp":0},
{"cat":"orange","pos":33.83560,"logp":0},{"cat":"orange","pos":33.83564,"logp":0.27},{"cat":"orange","pos":33.83570,"logp":0},
{"cat":"orange","pos":33.84540,"logp":0},{"cat":"orange","pos":33.84544,"logp":0.16},{"cat":"orange","pos":33.84550,"logp":0},
{"cat":"orange","pos":33.84630,"logp":0},{"cat":"orange","pos":33.84635,"logp":0.2},{"cat":"orange","pos":33.84642,"logp":0},
{"cat":"orange","pos":33.84790,"logp":0},{"cat":"orange","pos":33.84800,"logp":2.12},{"cat":"orange","pos":33.84808,"logp":0},
{"cat":"orange","pos":33.85010,"logp":0},{"cat":"orange","pos":33.85014,"logp":0.16},{"cat":"orange","pos":33.85020,"logp":0},
{"cat":"orange","pos":33.85285,"logp":0},{"cat":"orange","pos":33.85288,"logp":0.23},{"cat":"orange","pos":33.85294,"logp":0},
{"cat":"orange","pos":33.91155,"logp":0},{"cat":"orange","pos":33.91158,"logp":17.2},{"cat":"orange","pos":33.91182,"logp":12.2},{"cat":"orange","pos":33.91186,"logp":0},
{"cat":"orange","pos":33.91335,"logp":0},{"cat":"orange","pos":33.91339,"logp":0.61},{"cat":"orange","pos":33.91345,"logp":0},
{"cat":"orange","pos":33.91405,"logp":0},{"cat":"orange","pos":33.91409,"logp":2.42},{"cat":"orange","pos":33.91425,"logp":1.2},{"cat":"orange","pos":33.91430,"logp":0},
{"cat":"orange","pos":33.91686,"logp":0},{"cat":"orange","pos":33.91691,"logp":1.43},{"cat":"orange","pos":33.91698,"logp":0},
{"cat":"orange","pos":33.93480,"logp":0},{"cat":"orange","pos":33.93489,"logp":2.19},{"cat":"orange","pos":33.93496,"logp":0},
{"cat":"orange","pos":33.94410,"logp":0},{"cat":"orange","pos":33.94417,"logp":1.64},{"cat":"orange","pos":33.94425,"logp":0},
{"cat":"orange","pos":33.94860,"logp":0},{"cat":"orange","pos":33.94867,"logp":0.34},{"cat":"orange","pos":33.94887,"logp":2.73},{"cat":"orange","pos":33.94914,"logp":1.43},{"cat":"orange","pos":33.94940,"logp":0.10},{"cat":"orange","pos":33.94966,"logp":0.18},{"cat":"orange","pos":33.94975,"logp":0},
{"cat":"orange","pos":33.97312,"logp":0},{"cat":"orange","pos":33.97317,"logp":0.14},{"cat":"orange","pos":33.97322,"logp":0},
{"cat":"orange","pos":33.97530,"logp":0},{"cat":"orange","pos":33.97536,"logp":0.89},{"cat":"orange","pos":33.97557,"logp":0.41},{"cat":"orange","pos":33.97588,"logp":1.23},{"cat":"orange","pos":33.97595,"logp":0},
{"cat":"orange","pos":33.98060,"logp":0},{"cat":"orange","pos":33.98066,"logp":1.30},{"cat":"orange","pos":33.98073,"logp":0},
{"cat":"orange","pos":33.99285,"logp":0},{"cat":"orange","pos":33.99291,"logp":1.98},{"cat":"orange","pos":33.99298,"logp":0},
{"cat":"orange","pos":33.99668,"logp":0},{"cat":"orange","pos":33.99673,"logp":0.07},{"cat":"orange","pos":33.99718,"logp":2.36},{"cat":"orange","pos":33.99748,"logp":0.96},{"cat":"orange","pos":33.99780,"logp":0.48},{"cat":"orange","pos":33.99785,"logp":0},
{"cat":"orange","pos":34.02355,"logp":0},{"cat":"orange","pos":34.02360,"logp":0.16},{"cat":"orange","pos":34.02366,"logp":0},
{"cat":"purple","pos":33.79905,"logp":0},{"cat":"purple","pos":33.79914,"logp":0.61},{"cat":"purple","pos":33.79922,"logp":0},
{"cat":"purple","pos":33.80528,"logp":0},{"cat":"purple","pos":33.80533,"logp":0.6},{"cat":"purple","pos":33.80540,"logp":0},
{"cat":"purple","pos":33.80968,"logp":0},{"cat":"purple","pos":33.80977,"logp":0.75},{"cat":"purple","pos":33.80985,"logp":0},
{"cat":"purple","pos":33.81918,"logp":0},{"cat":"purple","pos":33.81925,"logp":1.00},{"cat":"purple","pos":33.81932,"logp":0},
{"cat":"purple","pos":33.89550,"logp":0},{"cat":"purple","pos":33.89551,"logp":72},{"cat":"purple","pos":33.89557,"logp":84.0},{"cat":"purple","pos":33.89562,"logp":74},{"cat":"purple","pos":33.89563,"logp":0},
{"cat":"purple","pos":33.91358,"logp":0},{"cat":"purple","pos":33.91362,"logp":0.6},{"cat":"purple","pos":33.91380,"logp":2.5},{"cat":"purple","pos":33.91384,"logp":0},
{"cat":"purple","pos":33.97185,"logp":0},{"cat":"purple","pos":33.97191,"logp":2.01},{"cat":"purple","pos":33.97200,"logp":0},
{"cat":"green","pos":33.81945,"logp":0},{"cat":"green","pos":33.81951,"logp":0.45},{"cat":"green","pos":33.81983,"logp":0.37},{"cat":"green","pos":33.82009,"logp":0.59},{"cat":"green","pos":33.82030,"logp":0.55},{"cat":"green","pos":33.82036,"logp":0}
 ],
 "lead": [{"snp": "rs889140", "pos": 33.88907, "logp": 0, "top": 8.47, "labely": 9.9}]
},
"layer": [
 {"data": {"name": "minorY"}, "mark": {"type": "rule", "color": "#F2F2F2", "strokeWidth": 2.7},
  "encoding": {"y": {"field": "logp", "type": "quantitative", "title": "−log₁₀(p)", "axis": {"values": [0, 20, 40, 60, 80]}, "scale": {"domain": [-4.245, 89.15], "nice": false, "zero": false}}}},
 {"data": {"name": "minorX"}, "mark": {"type": "rule", "color": "#F2F2F2", "strokeWidth": 2.7},
  "encoding": {"x": {"field": "pos", "type": "quantitative", "title": "position (Mb)", "axis": {"values": [33.80, 33.85, 33.90, 33.95, 34.00], "format": ".2f"}, "scale": {"domain": [33.7706, 34.0368], "nice": false, "zero": false}}}},
 {"data": {"name": "majorY"}, "mark": {"type": "rule", "color": "#FFFFFF", "strokeWidth": 5.3},
  "encoding": {"y": {"field": "logp", "type": "quantitative", "title": "−log₁₀(p)", "axis": {"values": [0, 20, 40, 60, 80]}, "scale": {"domain": [-4.245, 89.15], "nice": false, "zero": false}}}},
 {"data": {"name": "majorX"}, "mark": {"type": "rule", "color": "#FFFFFF", "strokeWidth": 5.3},
  "encoding": {"x": {"field": "pos", "type": "quantitative", "title": "position (Mb)", "axis": {"values": [33.80, 33.85, 33.90, 33.95, 34.00], "format": ".2f"}, "scale": {"domain": [33.7706, 34.0368], "nice": false, "zero": false}}}},
 {"data": {"name": "red"}, "mark": {"type": "area", "color": "#E31A1C", "interpolate": "linear"},
  "encoding": {
   "x": {"field": "pos", "type": "quantitative", "title": "position (Mb)", "axis": {"values": [33.80, 33.85, 33.90, 33.95, 34.00], "format": ".2f"}, "scale": {"domain": [33.7706, 34.0368], "nice": false, "zero": false}},
   "y": {"field": "logp", "type": "quantitative", "title": "−log₁₀(p)", "stack": null, "axis": {"values": [0, 20, 40, 60, 80]}, "scale": {"domain": [-4.245, 89.15], "nice": false, "zero": false}}}},
 {"data": {"name": "ld"}, "mark": {"type": "area", "interpolate": "linear"},
  "encoding": {
   "x": {"field": "pos", "type": "quantitative", "title": "position (Mb)", "axis": {"values": [33.80, 33.85, 33.90, 33.95, 34.00], "format": ".2f"}, "scale": {"domain": [33.7706, 34.0368], "nice": false, "zero": false}},
   "y": {"field": "logp", "type": "quantitative", "title": "−log₁₀(p)", "stack": null, "axis": {"values": [0, 20, 40, 60, 80]}, "scale": {"domain": [-4.245, 89.15], "nice": false, "zero": false}},
   "color": {"field": "cat", "type": "nominal", "legend": null, "scale": {"domain": ["blue", "orange", "purple", "green"], "range": ["#1F78B4", "#FF7F00", "#6A3D9A", "#33A02C"]}}}},
 {"data": {"name": "lead"}, "mark": {"type": "rule", "color": "black", "strokeWidth": 5, "strokeDash": [15.6, 12.8]},
  "encoding": {
   "x": {"field": "pos", "type": "quantitative", "title": "position (Mb)", "axis": {"values": [33.80, 33.85, 33.90, 33.95, 34.00], "format": ".2f"}},
   "y": {"field": "logp", "type": "quantitative", "title": "−log₁₀(p)", "axis": {"values": [0, 20, 40, 60, 80]}},
   "y2": {"field": "top"}}},
 {"data": {"name": "lead"}, "mark": {"type": "point", "filled": true, "color": "black", "opacity": 1, "size": 283},
  "encoding": {
   "x": {"field": "pos", "type": "quantitative", "title": "position (Mb)", "axis": {"values": [33.80, 33.85, 33.90, 33.95, 34.00], "format": ".2f"}},
   "y": {"field": "logp", "type": "quantitative", "title": "−log₁₀(p)", "axis": {"values": [0, 20, 40, 60, 80]}}}},
 {"data": {"name": "lead"}, "mark": {"type": "text", "color": "black", "font": "Liberation Sans", "fontSize": 41, "align": "center", "baseline": "alphabetic"},
  "encoding": {
   "x": {"field": "pos", "type": "quantitative", "title": "position (Mb)", "axis": {"values": [33.80, 33.85, 33.90, 33.95, 34.00], "format": ".2f"}},
   "y": {"field": "labely", "type": "quantitative", "title": "−log₁₀(p)", "axis": {"values": [0, 20, 40, 60, 80]}},
   "text": {"field": "snp"}}}
]
}
